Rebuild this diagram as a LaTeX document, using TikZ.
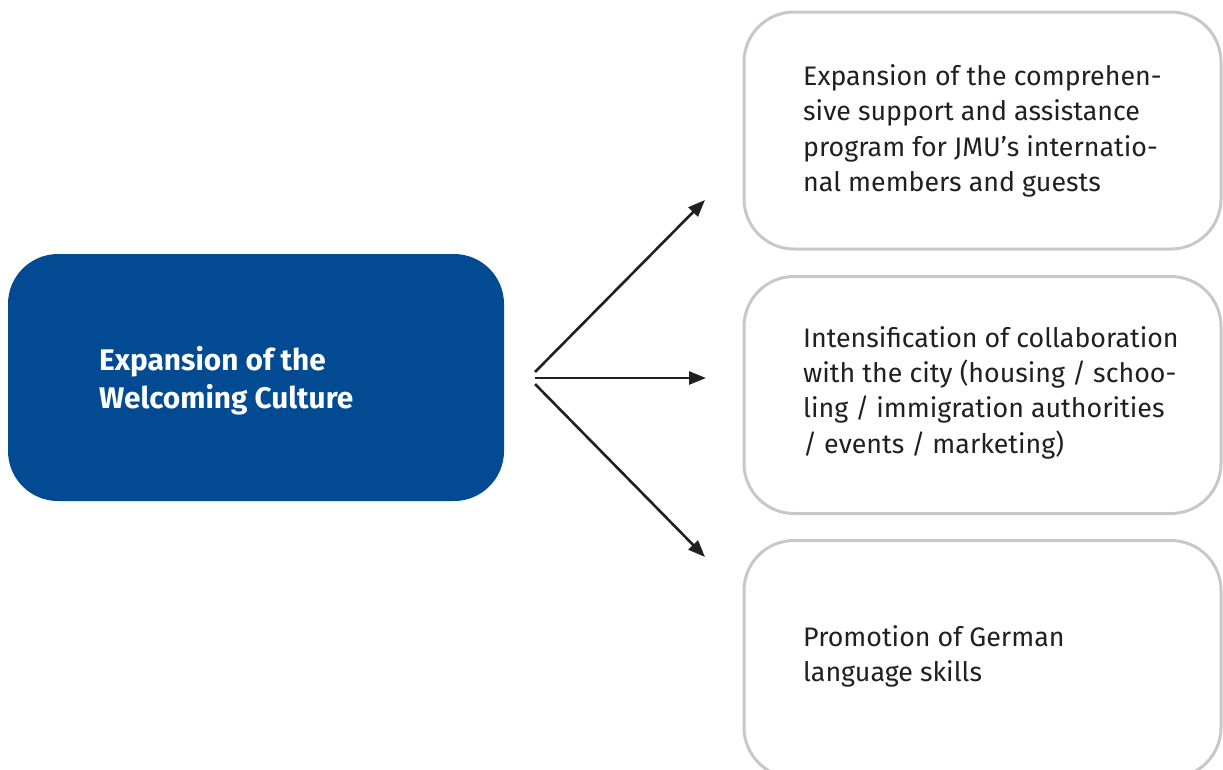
\documentclass[tikz,border=0pt]{standalone}
\usepackage{fontspec}
\setmainfont{Fira Sans}
\usetikzlibrary{arrows.meta}
\definecolor{jmublue}{HTML}{024A92}
\definecolor{boxgray}{HTML}{C8C8C8}
\definecolor{txt}{HTML}{231F20}
\tikzset{
  mainbox/.style={fill=jmublue, draw=none, rounded corners=50pt, minimum width=496pt, minimum height=247pt, inner sep=0pt},
  itembox/.style={draw=boxgray, line width=3pt, fill=white, rounded corners=50pt, minimum width=477pt, minimum height=237pt, inner sep=0pt},
  itemtext/.style={anchor=west, align=left, inner sep=0pt, text=txt, font=\fontsize{26.8}{35.3}\selectfont},
  maintext/.style={anchor=west, align=left, inner sep=0pt, text=white, font=\fontsize{29.8}{38}\selectfont\bfseries},
  arr/.style={line width=2.6pt, -{Triangle[length=17pt,width=13pt]}, draw=txt}
}
\begin{document}
\begin{tikzpicture}[x=1pt,y=-1pt]
\useasboundingbox (0,0) rectangle (1223,769);
\node[mainbox] (main) at (256,377.5) {};
\node[maintext] (mt) at (99,381) {Expansion of the\\Welcoming Culture};
\node[itembox] (b1) at (982.5,130.5) {};
\node[itembox] (b2) at (982.5,395) {};
\node[itembox] (b3) at (982.5,659) {};
\node[itemtext] (t1) at (803,131) {Expansion of the comprehen-\\sive support and assistance\\program for JMU’s internatio-\\nal members and guests};
\node[itemtext] (t2) at (803,392.5) {Intensification of collaboration\\with the city (housing / schoo-\\ling / immigration authorities\\/ events / marketing)};
\node[itemtext] (t3) at (803,656.5) {Promotion of German\\language skills};
\coordinate (s1) at (535,372);
\coordinate (s2) at (535,378);
\coordinate (s3) at (535,384);
\coordinate (e1) at (705,200);
\coordinate (e2) at (706,378);
\coordinate (e3) at (705,557);
\draw[arr] (s1) -- (e1);
\draw[arr] (s2) -- (e2);
\draw[arr] (s3) -- (e3);
\end{tikzpicture}
\end{document}
